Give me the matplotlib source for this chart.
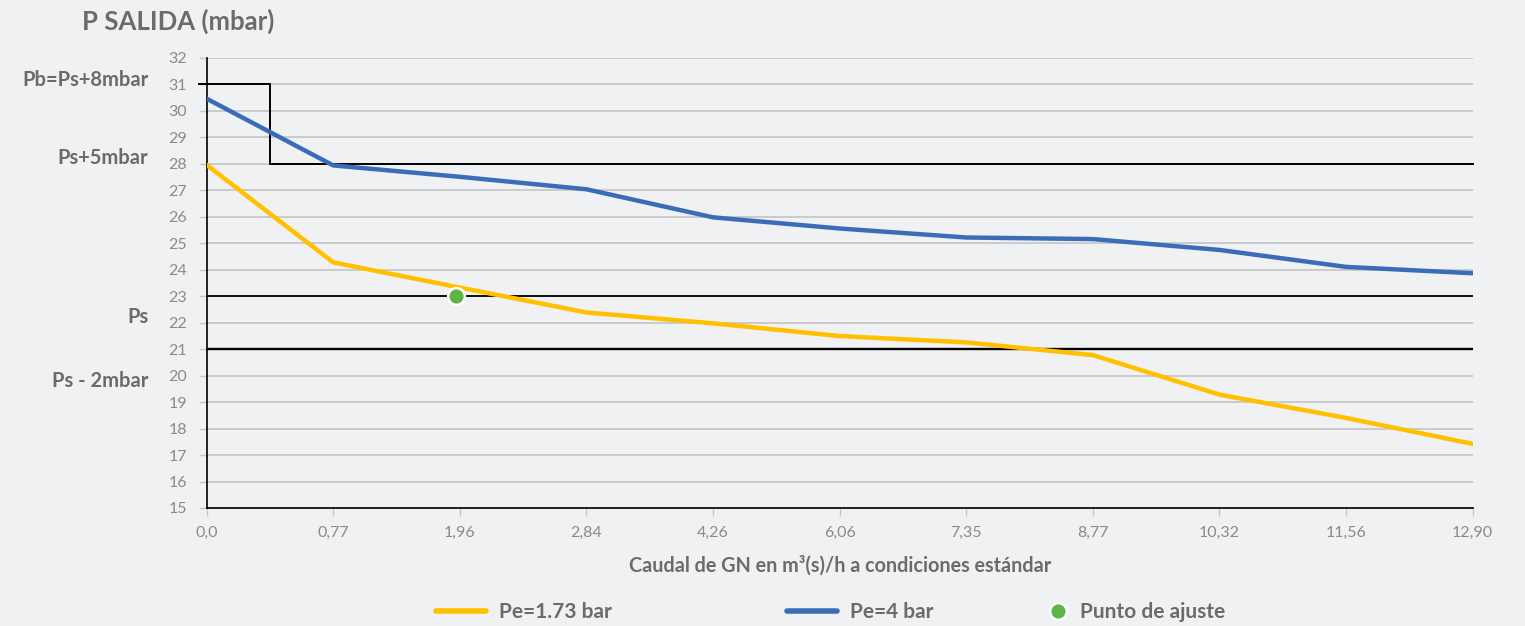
import matplotlib
matplotlib.use("Agg")
import matplotlib.pyplot as plt
from matplotlib.lines import Line2D

# caudal (categorias equiespaciadas)
caudal = ["0,0", "0,77", "1,96", "2,84", "4,26", "6,06", "7,35", "8,77", "10,32", "11,56", "12,90"]
pe_173 = [27.95, 24.27, 23.32, 22.38, 21.97, 21.49, 21.25, 20.77, 19.28, 18.40, 17.42]
pe_4 = [30.45, 27.93, 27.50, 27.03, 25.97, 25.55, 25.21, 25.15, 24.74, 24.10, 23.86]

ajuste_x = 1.97
ajuste_y = 23.0

# limites de referencia
pb = 31
ps_mas5 = 28
ps = 23
ps_menos2 = 21
escalon_x = 0.5

ref_labels = ["Pb=Ps+8mbar", "Ps+5mbar", "Ps", "Ps - 2mbar"]
ref_label_y = [31.15, 28.2, 22.22, 19.8]

BG = "#f0f1f3"
TXT = "#6b6b6b"
TICK = "#8a8a8a"
YELLOW = "#ffc000"
BLUE = "#3b6cb7"
GREEN = "#5db544"

plt.rcParams["font.family"] = ["Lato", "DejaVu Sans"]

fig = plt.figure(figsize=(15.25, 6.26), dpi=100, facecolor=BG)
ax = fig.add_axes([0.1355, 0.1885, 0.9657 - 0.1355, 0.908 - 0.1885])
ax.set_facecolor(BG)

x = list(range(len(caudal)))

# grid
for v in range(15, 33):
    ax.axhline(v, color="#c6c7c9", lw=1.3, zorder=1)

# reference lines
ax.plot([-0.06, escalon_x, escalon_x, x[-1]], [pb, pb, ps_mas5, ps_mas5],
        color="black", lw=1.4, zorder=2, clip_on=False, solid_joinstyle="miter")
ax.plot([0, x[-1]], [ps, ps], color="black", lw=1.3, zorder=2)
ax.plot([0, x[-1]], [ps_menos2, ps_menos2], color="black", lw=1.7, zorder=2)

ax.plot(x, pe_173, color=YELLOW, lw=3.2, zorder=3, solid_capstyle="round")
ax.plot(x, pe_4, color=BLUE, lw=3.2, zorder=3, solid_capstyle="round")
ax.plot([ajuste_x], [ajuste_y], "o", color=GREEN, ms=12, mec="white", mew=1.8, zorder=4)

ax.set_xlim(0, x[-1])
ax.set_ylim(15, 32)
ax.set_xticks(x)
ax.set_xticklabels(caudal)
ax.set_yticks(range(15, 33))

for s in ["top", "right"]:
    ax.spines[s].set_visible(False)
ax.spines["left"].set_color("black")
ax.spines["bottom"].set_color("black")
ax.spines["left"].set_linewidth(1.2)
ax.spines["bottom"].set_linewidth(1.2)

ax.tick_params(axis="y", length=6, width=1, color="#c6c7c9", labelsize=11.5,
               labelcolor=TICK, pad=8)
ax.tick_params(axis="x", length=6, width=1, color="#c6c7c9", labelsize=11.5,
               labelcolor=TICK, pad=7)

ax.set_xlabel("Caudal de GN en m³(s)/h a condiciones estándar", fontsize=14.2,
              fontweight="bold", color=TXT, labelpad=11)

for lab, yv in zip(ref_labels, ref_label_y):
    ax.text(-0.046, yv, lab, transform=ax.get_yaxis_transform(), ha="right", va="center",
            fontsize=14.5, fontweight="bold", color=TXT)

fig.text(82 / 1525, 1 - 21 / 626, "P SALIDA (mbar)", fontsize=18.5, fontweight="bold",
         color=TXT, ha="left", va="center")

# legend
entries = [
    (Line2D([], [], color=YELLOW, lw=4, solid_capstyle="round"), "Pe=1.73 bar", 426),
    (Line2D([], [], color=BLUE, lw=4, solid_capstyle="round"), "Pe=4 bar", 777),
    (Line2D([], [], ls="none", marker="o", color=GREEN, ms=12, mec="white", mew=1.8),
     "Punto de ajuste", 1038),
]
for h, lab, px in entries:
    hl = 2.4 if lab != "Punto de ajuste" else 0.9
    leg = fig.legend([h], [lab], loc="center left", bbox_to_anchor=(px / 1525, 1 - 612 / 626),
                     frameon=False, handlelength=hl, handletextpad=0.6,
                     prop={"size": 15, "weight": "bold"}, borderpad=0)
    for t in leg.get_texts():
        t.set_color(TXT)

fig.savefig("out.png", dpi=100, facecolor=BG)
